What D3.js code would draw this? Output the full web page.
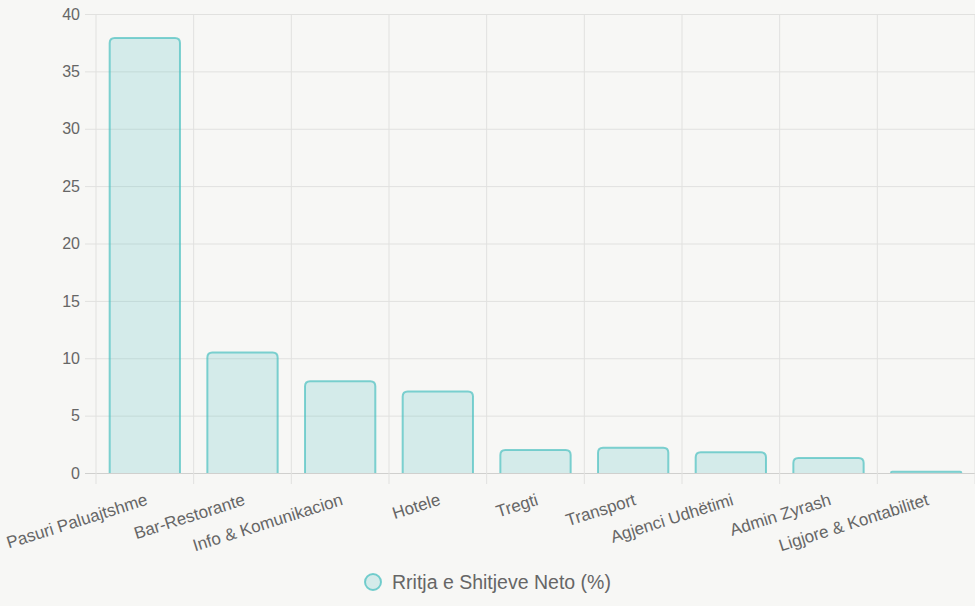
<!DOCTYPE html>
<html><head><meta charset="utf-8">
<script src="https://cdn.jsdelivr.net/npm/d3@7"></script>
<style>
html,body{margin:0;padding:0;background:#f7f7f5;}
svg{display:block;font-family:"Liberation Sans",Arial,Helvetica,sans-serif;}
</style></head>
<body>
<svg id="chart" width="975" height="606"></svg>
<script>
const categories = ["Pasuri Paluajtshme","Bar-Restorante","Info & Komunikacion","Hotele","Tregti","Transport","Agjenci Udhëtimi","Admin Zyrash","Ligjore & Kontabilitet"];
const values = [37.9, 10.5, 8.0, 7.1, 2.0, 2.2, 1.8, 1.3, 0.1];
const yTicks = [0, 5, 10, 15, 20, 25, 30, 35, 40];
const seriesName = "Rritja e Shitjeve Neto (%)";

(function () {
const W = 975, H = 606;
const pLeft = 96, pRight = 975, pTop = 14, pBottom = 473;
const svg = d3.select("#chart");
svg.append("rect").attr("width", W).attr("height", H).attr("fill", "#f7f7f5");

const x = d3.scaleBand().domain(categories).range([pLeft, pRight]).paddingInner(0).paddingOuter(0);
const y = d3.scaleLinear().domain([0, 40]).range([pBottom, pTop]);

const grid = "#e1e1df";
const yAxis = d3.axisLeft(y).tickValues(yTicks).tickSize(0).tickPadding(5);
const gy = svg.append("g").attr("transform", `translate(${pLeft - 11},0)`).call(yAxis);
gy.select(".domain").remove();
gy.selectAll(".tick line").attr("x1", 0).attr("x2", pRight - pLeft + 11)
  .attr("stroke", d => d === 0 ? "#d0d0ce" : grid);
gy.selectAll(".tick text").attr("fill", "#666").attr("font-size", 16).attr("x", -5)
  .attr("font-family", "Liberation Sans, Arial, sans-serif");

// vertical grid lines at category boundaries
const bounds = categories.map(c => x(c)).concat([pRight]);
svg.append("g").selectAll("line").data(bounds).join("line")
  .attr("x1", d => d).attr("x2", d => d)
  .attr("y1", pTop).attr("y2", pBottom + 11)
  .attr("stroke", grid);

// bars
const bw = x.bandwidth() * 0.8 * 0.9;
const r = 5;
function barPath(cx, v) {
  const x0 = cx - bw / 2, x1 = cx + bw / 2;
  const yt = y(v), yb = y(0);
  const rr = Math.min(r, (yb - yt), bw / 2);
  return `M${x0},${yb} L${x0},${yt + rr} Q${x0},${yt} ${x0 + rr},${yt} L${x1 - rr},${yt} Q${x1},${yt} ${x1},${yt + rr} L${x1},${yb}`;
}
svg.append("g").selectAll("path").data(categories).join("path")
  .attr("d", (c, i) => barPath(x(c) + x.bandwidth() / 2, values[i]))
  .attr("fill", "rgba(75,192,192,0.2)")
  .attr("stroke", "rgba(75,192,192,0.7)")
  .attr("stroke-width", 2);

// x labels
const angle = -17.5;
svg.append("g").selectAll("text").data(categories).join("text")
  .attr("transform", c => `translate(${x(c) + x.bandwidth() / 2},${pBottom + 20}) rotate(${angle})`)
  .attr("text-anchor", "end")
  .attr("dy", "0.71em")
  .attr("fill", "#666")
  .attr("font-size", 17)
  .text(c => c);

// legend
svg.append("circle").attr("cx", 373).attr("cy", 582).attr("r", 8)
  .attr("fill", "rgba(75,192,192,0.2)").attr("stroke", "rgba(75,192,192,0.75)").attr("stroke-width", 2);
svg.append("text").attr("x", 392).attr("y", 582).attr("dy", "0.35em")
  .attr("fill", "#666").attr("font-size", 19.5).text(seriesName);
})();
</script>
</body></html>
